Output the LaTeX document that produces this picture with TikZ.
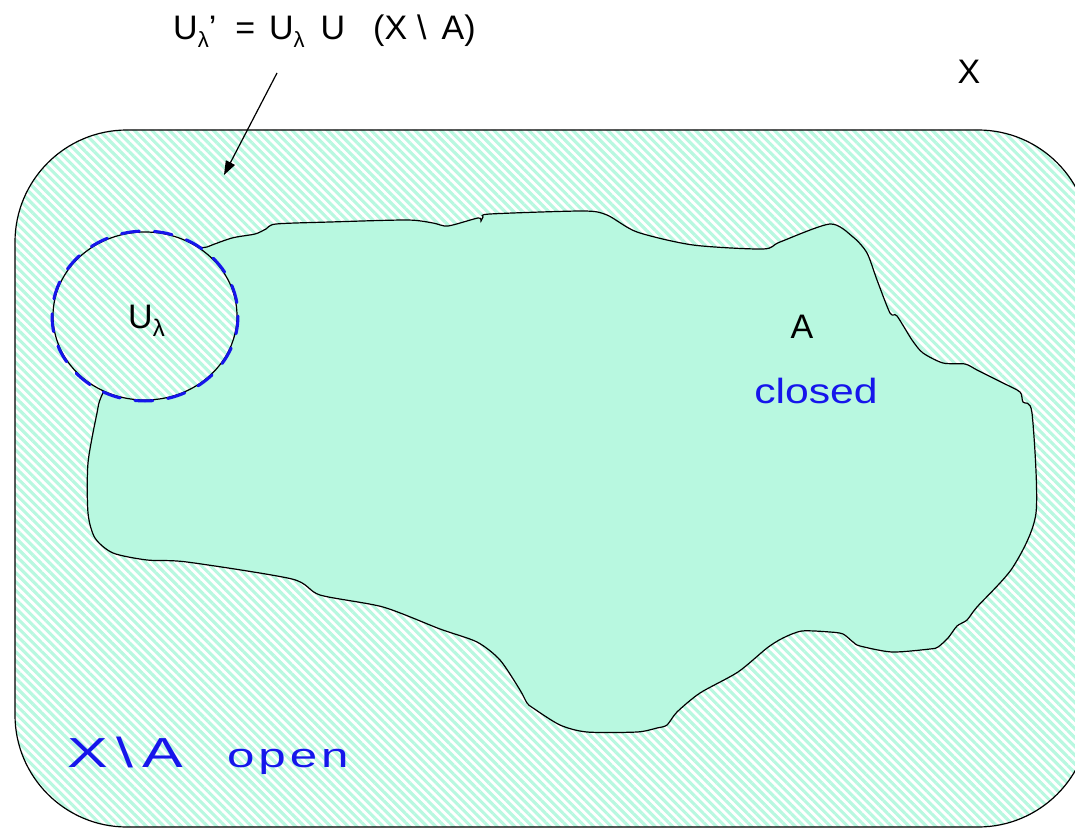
\documentclass[tikz,border=0pt]{standalone}
\usepackage{fontspec}
\setmainfont{Liberation Sans}
\usetikzlibrary{patterns.meta,arrows.meta}
\definecolor{mint}{RGB}{184,248,224}
\definecolor{pen}{RGB}{22,22,235}
\newcommand\lamsub[1][24]{\raisebox{-8pt}{\fontsize{#1}{#1}\selectfont λ}}
\begin{document}
\begin{tikzpicture}[x=1pt,y=-1pt,
  stripes/.style={pattern={Lines[angle=-45,distance=6.2pt,line width=3.1pt]},pattern color=mint},
  outline/.style={draw=black,line width=1.2pt},
  lbl/.style={font=\fontsize{34}{40}\selectfont, inner sep=0pt},
  hand/.style={text=pen, inner sep=0pt},
  pendash/.style={draw=pen,line width=3pt,line cap=round,dash pattern=on 18pt off 15pt}]
\useasboundingbox (0,0) rectangle (1075,829);
\fill[white] (0,0) rectangle (1075,829);
\begin{scope}
\clip (0,0) rectangle (1075,829);
\fill[white, rounded corners=112pt] (15,130) rectangle (1090,827);
\path[stripes, rounded corners=112pt] (15,130) rectangle (1090,827);
\draw[outline, rounded corners=112pt] (15,130) rectangle (1090,827);
\end{scope}
% closed set A
\draw[outline, fill=mint] plot[smooth cycle, tension=0.45] coordinates {
(190,255) (207,247) (232,238) (255,234) (266,229) (276,224) (330,222) (407,220)
(433,223) (448,226) (478,218) (481,221) (483,217) (490,214) (583,211) (607,215)
(637,232) (693,245) (763,249) (780,242) (830,224) (853,237) (867,253) (877,280)
(890,313) (897,316) (912,340) (923,353) (943,363) (965,364) (977,370) (1003,383)
(1020,392) (1023,402) (1032,413) (1036,513) (1013,567) (977,607) (967,620)
(957,626) (948,638) (938,647) (930,649) (892,652) (860,646) (853,642) (843,634)
(830,632) (802,631) (783,638) (767,648) (738,672) (700,693) (677,712) (667,725)
(657,728) (637,732) (587,732) (560,725) (533,708) (527,703) (520,690) (500,660)
(477,642) (440,629) (383,607) (320,595) (292,579) (187,562) (147,560) (113,553)
(95,538) (88,513) (88,463) (97,413) (102,395) (130,340)};
% open set U_lambda
\fill[white] (145,316) ellipse [x radius=92, y radius=84];
\path[stripes] (145,316) ellipse [x radius=92, y radius=84];
\draw[outline] (145,316) ellipse [x radius=92, y radius=84];
\draw[pendash] (145,316) ellipse [x radius=93, y radius=85];
% labels
\node[lbl, anchor=base west] (title) at (173,40) {U\lamsub[22]’\hspace{19pt}=\hspace{14pt}U\lamsub[22]\hspace{16pt}U\hspace{28pt}(X\hspace{10pt}\textbackslash\hspace{15pt}A)};
\node[lbl] (X) at (969,72) {X};
\node[lbl] (A) at (802,327) {A};
\node[lbl, anchor=base west] (U) at (128,328) {U\lamsub};
\node[hand, anchor=base] (closed) at (816,403) {\scalebox{1.22}[1]{\fontsize{35}{40}\selectfont closed}};
\node[hand, anchor=base west] (XA) at (67,767) {\scalebox{1.45}[1]{\fontsize{42}{46}\selectfont{\addfontfeature{LetterSpace=15}X\textbackslash A}\hspace{30pt}\fontsize{34}{38}\selectfont\addfontfeature{LetterSpace=8}open}};
% arrow
\coordinate (arrS) at (277,73);
\coordinate (arrE) at (224,175);
\draw[line width=1.2pt, -{Triangle[length=14pt,width=10pt]}] (arrS) -- (arrE);
\end{tikzpicture}
\end{document}
